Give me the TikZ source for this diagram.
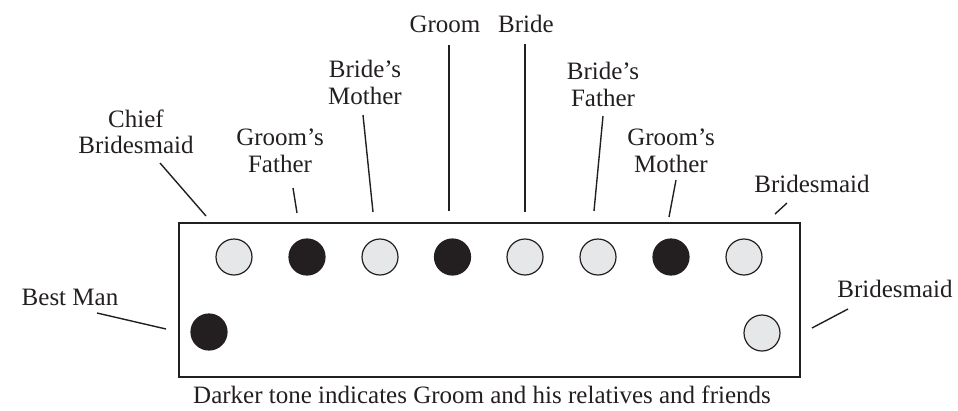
\documentclass[tikz,border=0pt]{standalone}
\usepackage{fontspec}
\setmainfont{Liberation Serif}
\definecolor{lightseat}{HTML}{E6E7E8}
\definecolor{darkseat}{HTML}{231F20}
\begin{document}
\begin{tikzpicture}[x=1pt,y=-1pt,
  lbl/.style={inner sep=0pt, align=center, font=\fontsize{25}{26.5}\selectfont, text=darkseat},
  seat/.style={circle, minimum size=36pt, inner sep=0pt, draw=darkseat, line width=1.2pt},
  light/.style={seat, fill=lightseat},
  dark/.style={seat, fill=darkseat},
  leader/.style={draw=darkseat, line width=1.4pt}]
\useasboundingbox (0,0) rectangle (958,410);
\node[draw=darkseat, line width=1.6pt, minimum width=621pt, minimum height=154pt, inner sep=0pt] (table) at (489.5,300) {};
% seats
\node[light] (s1) at (234,257) {};
\node[dark]  (s2) at (307,257) {};
\node[light] (s3) at (380,257) {};
\node[dark]  (s4) at (452.5,257) {};
\node[light] (s5) at (525,257) {};
\node[light] (s6) at (598,257) {};
\node[dark]  (s7) at (671,257) {};
\node[light] (s8) at (744,257) {};
\node[dark]  (s9) at (209,332) {};
\node[light] (s10) at (762,333) {};
% labels
\node[lbl] (lchief) at (136,131.6) {Chief\\Bridesmaid};
\node[lbl] (lgf) at (280,150.6) {Groom’s\\Father};
\node[lbl] (lbm) at (365,82.6) {Bride’s\\Mother};
\node[lbl] (lgroom) at (445,24.3) {Groom};
\node[lbl] (lbride) at (526,24.3) {Bride};
\node[lbl] (lbf) at (603,84.6) {Bride’s\\Father};
\node[lbl] (lgm) at (671,150.6) {Groom’s\\Mother};
\node[lbl] (lbs1) at (812,184.4) {Bridesmaid};
\node[lbl] (lbs2) at (895,289) {Bridesmaid};
\node[lbl] (lbest) at (70,297.5) {Best Man};
\node[lbl] (caption) at (482,395) {Darker tone indicates Groom and his relatives and friends};
% leader ends
\coordinate (a1) at (160,163); \coordinate (a2) at (206,216);
\coordinate (b1) at (293,188); \coordinate (b2) at (297,213);
\coordinate (c1) at (363,115); \coordinate (c2) at (373,212);
\coordinate (d1) at (449,45);  \coordinate (d2) at (449,211);
\coordinate (e1) at (525,44);  \coordinate (e2) at (525,212);
\coordinate (f1) at (603,116); \coordinate (f2) at (594,211);
\coordinate (g1) at (676,180); \coordinate (g2) at (669,217);
\coordinate (h1) at (787,203); \coordinate (h2) at (775,214);
\coordinate (i1) at (848,309); \coordinate (i2) at (812,328);
\coordinate (j1) at (97,313);  \coordinate (j2) at (166,329);
\draw[leader] (a1) -- (a2);
\draw[leader] (b1) -- (b2);
\draw[leader] (c1) -- (c2);
\draw[leader] (d1) -- (d2);
\draw[leader] (e1) -- (e2);
\draw[leader] (f1) -- (f2);
\draw[leader] (g1) -- (g2);
\draw[leader] (h1) -- (h2);
\draw[leader] (i1) -- (i2);
\draw[leader] (j1) -- (j2);
\end{tikzpicture}
\end{document}
